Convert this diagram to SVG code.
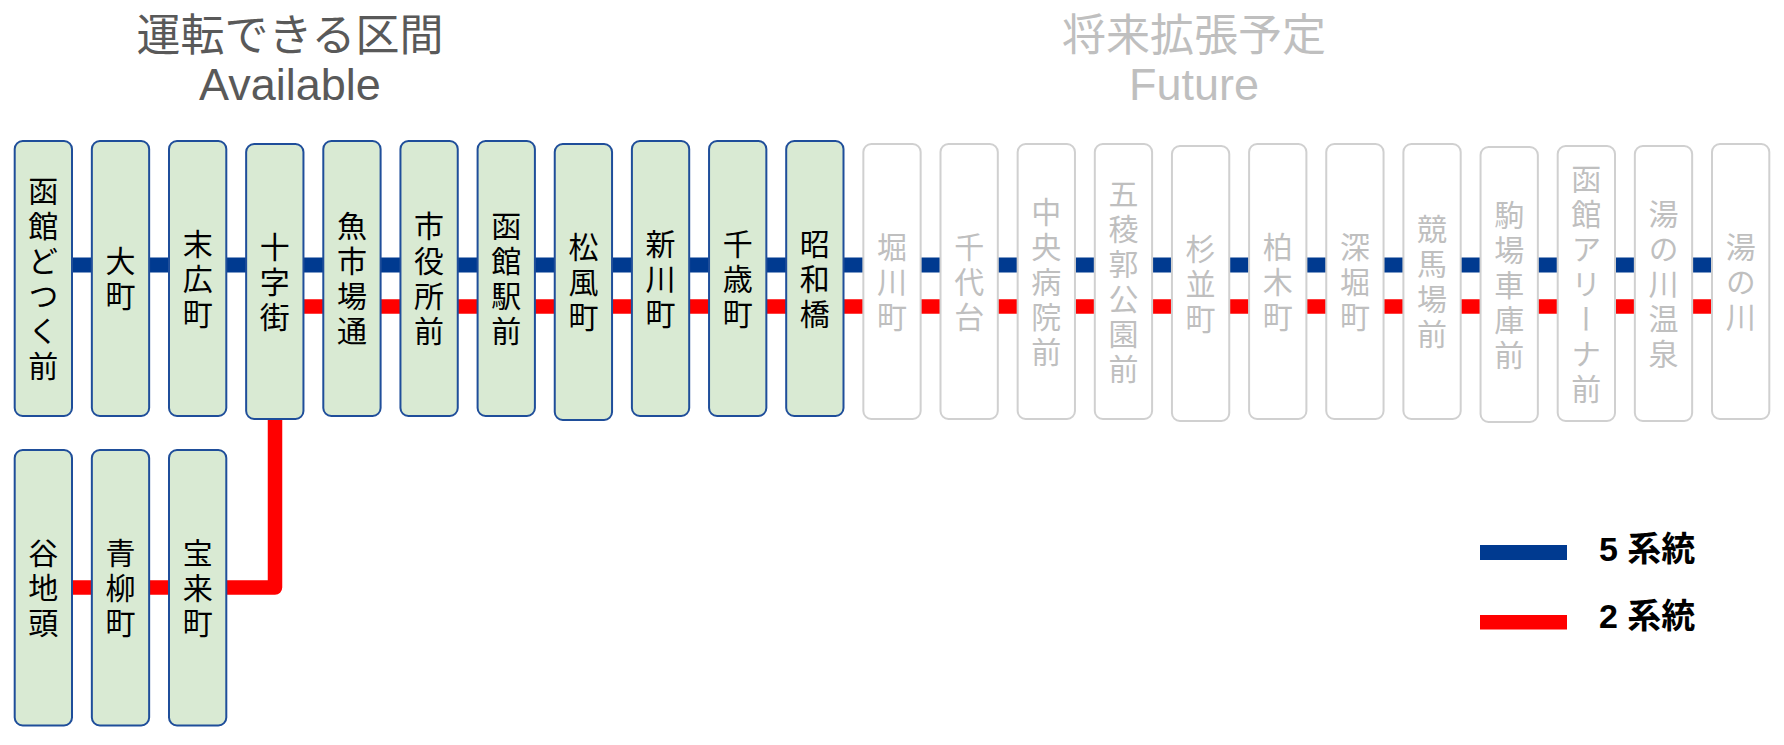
<svg xmlns="http://www.w3.org/2000/svg" width="1784" height="745" viewBox="0 0 1784 745">
<style>
.title{font-family:"Noto Sans CJK JP","Liberation Sans",sans-serif;font-size:44px;text-anchor:middle}
.en{font-family:"Liberation Sans",Arial,sans-serif;font-size:45px;text-anchor:middle}
.on{fill:#595959}
.off{fill:#BFBFBF}
.act rect{fill:#D9EAD3;stroke:#1F4E9A;stroke-width:2}
.fut rect{fill:#FFFFFF;stroke:#D0D0D0;stroke-width:2}
.st{font-family:"Noto Sans CJK JP",sans-serif;font-size:30px;letter-spacing:5px;text-anchor:middle;writing-mode:vertical-rl}
.act text{fill:#000000}
.fut text{fill:#BFBFBF}
.blue{stroke:#003A90;stroke-width:15;fill:none}
.red{stroke:#FF0000;stroke-width:14.5;fill:none;stroke-linejoin:round}
.leg{font-family:"Liberation Sans","Noto Sans CJK JP",sans-serif;font-size:34px;font-weight:bold;fill:#000000}
</style>
<rect width="1784" height="745" fill="#FFFFFF"/>
<g id="titles">
<text class="title on" x="290" y="51">運転できる区間</text>
<text class="en on" x="290" y="100">Available</text>
<text class="title off" x="1194" y="51">将来拡張予定</text>
<text class="en off" x="1194" y="100">Future</text>
</g>
<g id="connectors">
<path class="blue" d="M40 265H1740"/>
<path class="red" d="M1740 306.5H275"/>
<path class="red" d="M275 306.5V587.5H40"/>
</g>
<g id="n0" class="act"><rect x="14.7" y="141" width="57.3" height="275" rx="8"/><text class="st" x="43.35" y="281">函館どつく前</text></g>
<g id="n1" class="act"><rect x="91.85" y="141" width="57.3" height="275" rx="8"/><text class="st" x="120.5" y="281">大町</text></g>
<g id="n2" class="act"><rect x="169" y="141" width="57.3" height="275" rx="8"/><text class="st" x="197.65" y="281">末広町</text></g>
<g id="n3" class="act"><rect x="246.15" y="144" width="57.3" height="275" rx="8"/><text class="st" x="274.8" y="284">十字街</text></g>
<g id="n4" class="act"><rect x="323.3" y="141" width="57.3" height="275" rx="8"/><text class="st" x="351.95" y="281">魚市場通</text></g>
<g id="n5" class="act"><rect x="400.45" y="141" width="57.3" height="275" rx="8"/><text class="st" x="429.1" y="281">市役所前</text></g>
<g id="n6" class="act"><rect x="477.6" y="141" width="57.3" height="275" rx="8"/><text class="st" x="506.25" y="281">函館駅前</text></g>
<g id="n7" class="act"><rect x="554.75" y="144" width="57.3" height="276" rx="8"/><text class="st" x="583.4" y="284">松風町</text></g>
<g id="n8" class="act"><rect x="631.9" y="141" width="57.3" height="275" rx="8"/><text class="st" x="660.55" y="281">新川町</text></g>
<g id="n9" class="act"><rect x="709.05" y="141" width="57.3" height="275" rx="8"/><text class="st" x="737.7" y="281">千歳町</text></g>
<g id="n10" class="act"><rect x="786.2" y="141" width="57.3" height="275" rx="8"/><text class="st" x="814.85" y="281">昭和橋</text></g>
<g id="n11" class="fut"><rect x="863.35" y="144" width="57.3" height="275" rx="8"/><text class="st" x="892" y="284">堀川町</text></g>
<g id="n12" class="fut"><rect x="940.5" y="144" width="57.3" height="275" rx="8"/><text class="st" x="969.15" y="284">千代台</text></g>
<g id="n13" class="fut"><rect x="1017.65" y="144" width="57.3" height="275" rx="8"/><text class="st" x="1046.3" y="284">中央病院前</text></g>
<g id="n14" class="fut"><rect x="1094.8" y="144" width="57.3" height="275" rx="8"/><text class="st" x="1123.45" y="284">五稜郭公園前</text></g>
<g id="n15" class="fut"><rect x="1171.95" y="146" width="57.3" height="275" rx="8"/><text class="st" x="1200.6" y="286">杉並町</text></g>
<g id="n16" class="fut"><rect x="1249.1" y="144" width="57.3" height="275" rx="8"/><text class="st" x="1277.75" y="284">柏木町</text></g>
<g id="n17" class="fut"><rect x="1326.25" y="144" width="57.3" height="275" rx="8"/><text class="st" x="1354.9" y="284">深堀町</text></g>
<g id="n18" class="fut"><rect x="1403.4" y="144" width="57.3" height="275" rx="8"/><text class="st" x="1432.05" y="284">競馬場前</text></g>
<g id="n19" class="fut"><rect x="1480.55" y="147" width="57.3" height="275" rx="8"/><text class="st" x="1509.2" y="287">駒場車庫前</text></g>
<g id="n20" class="fut"><rect x="1557.7" y="146" width="57.3" height="275" rx="8"/><text class="st" x="1586.35" y="286">函館アリーナ前</text></g>
<g id="n21" class="fut"><rect x="1634.85" y="146" width="57.3" height="275" rx="8"/><text class="st" x="1663.5" y="286">湯の川温泉</text></g>
<g id="n22" class="fut"><rect x="1712" y="144" width="57.3" height="275" rx="8"/><text class="st" x="1740.65" y="284">湯の川</text></g>
<g id="n23" class="act"><rect x="14.7" y="450" width="57.3" height="275.5" rx="8"/><text class="st" x="43.35" y="590.5">谷地頭</text></g>
<g id="n24" class="act"><rect x="91.85" y="450" width="57.3" height="275.5" rx="8"/><text class="st" x="120.5" y="590.5">青柳町</text></g>
<g id="n25" class="act"><rect x="169" y="450" width="57.3" height="275.5" rx="8"/><text class="st" x="197.65" y="590.5">宝来町</text></g>
<g id="legend">
<rect x="1480" y="545" width="87" height="15" fill="#003A90"/>
<text class="leg" x="1599" y="561">5 系統</text>
<rect x="1480" y="615" width="87" height="14.5" fill="#FF0000"/>
<text class="leg" x="1599" y="628">2 系統</text>
</g>
</svg>
